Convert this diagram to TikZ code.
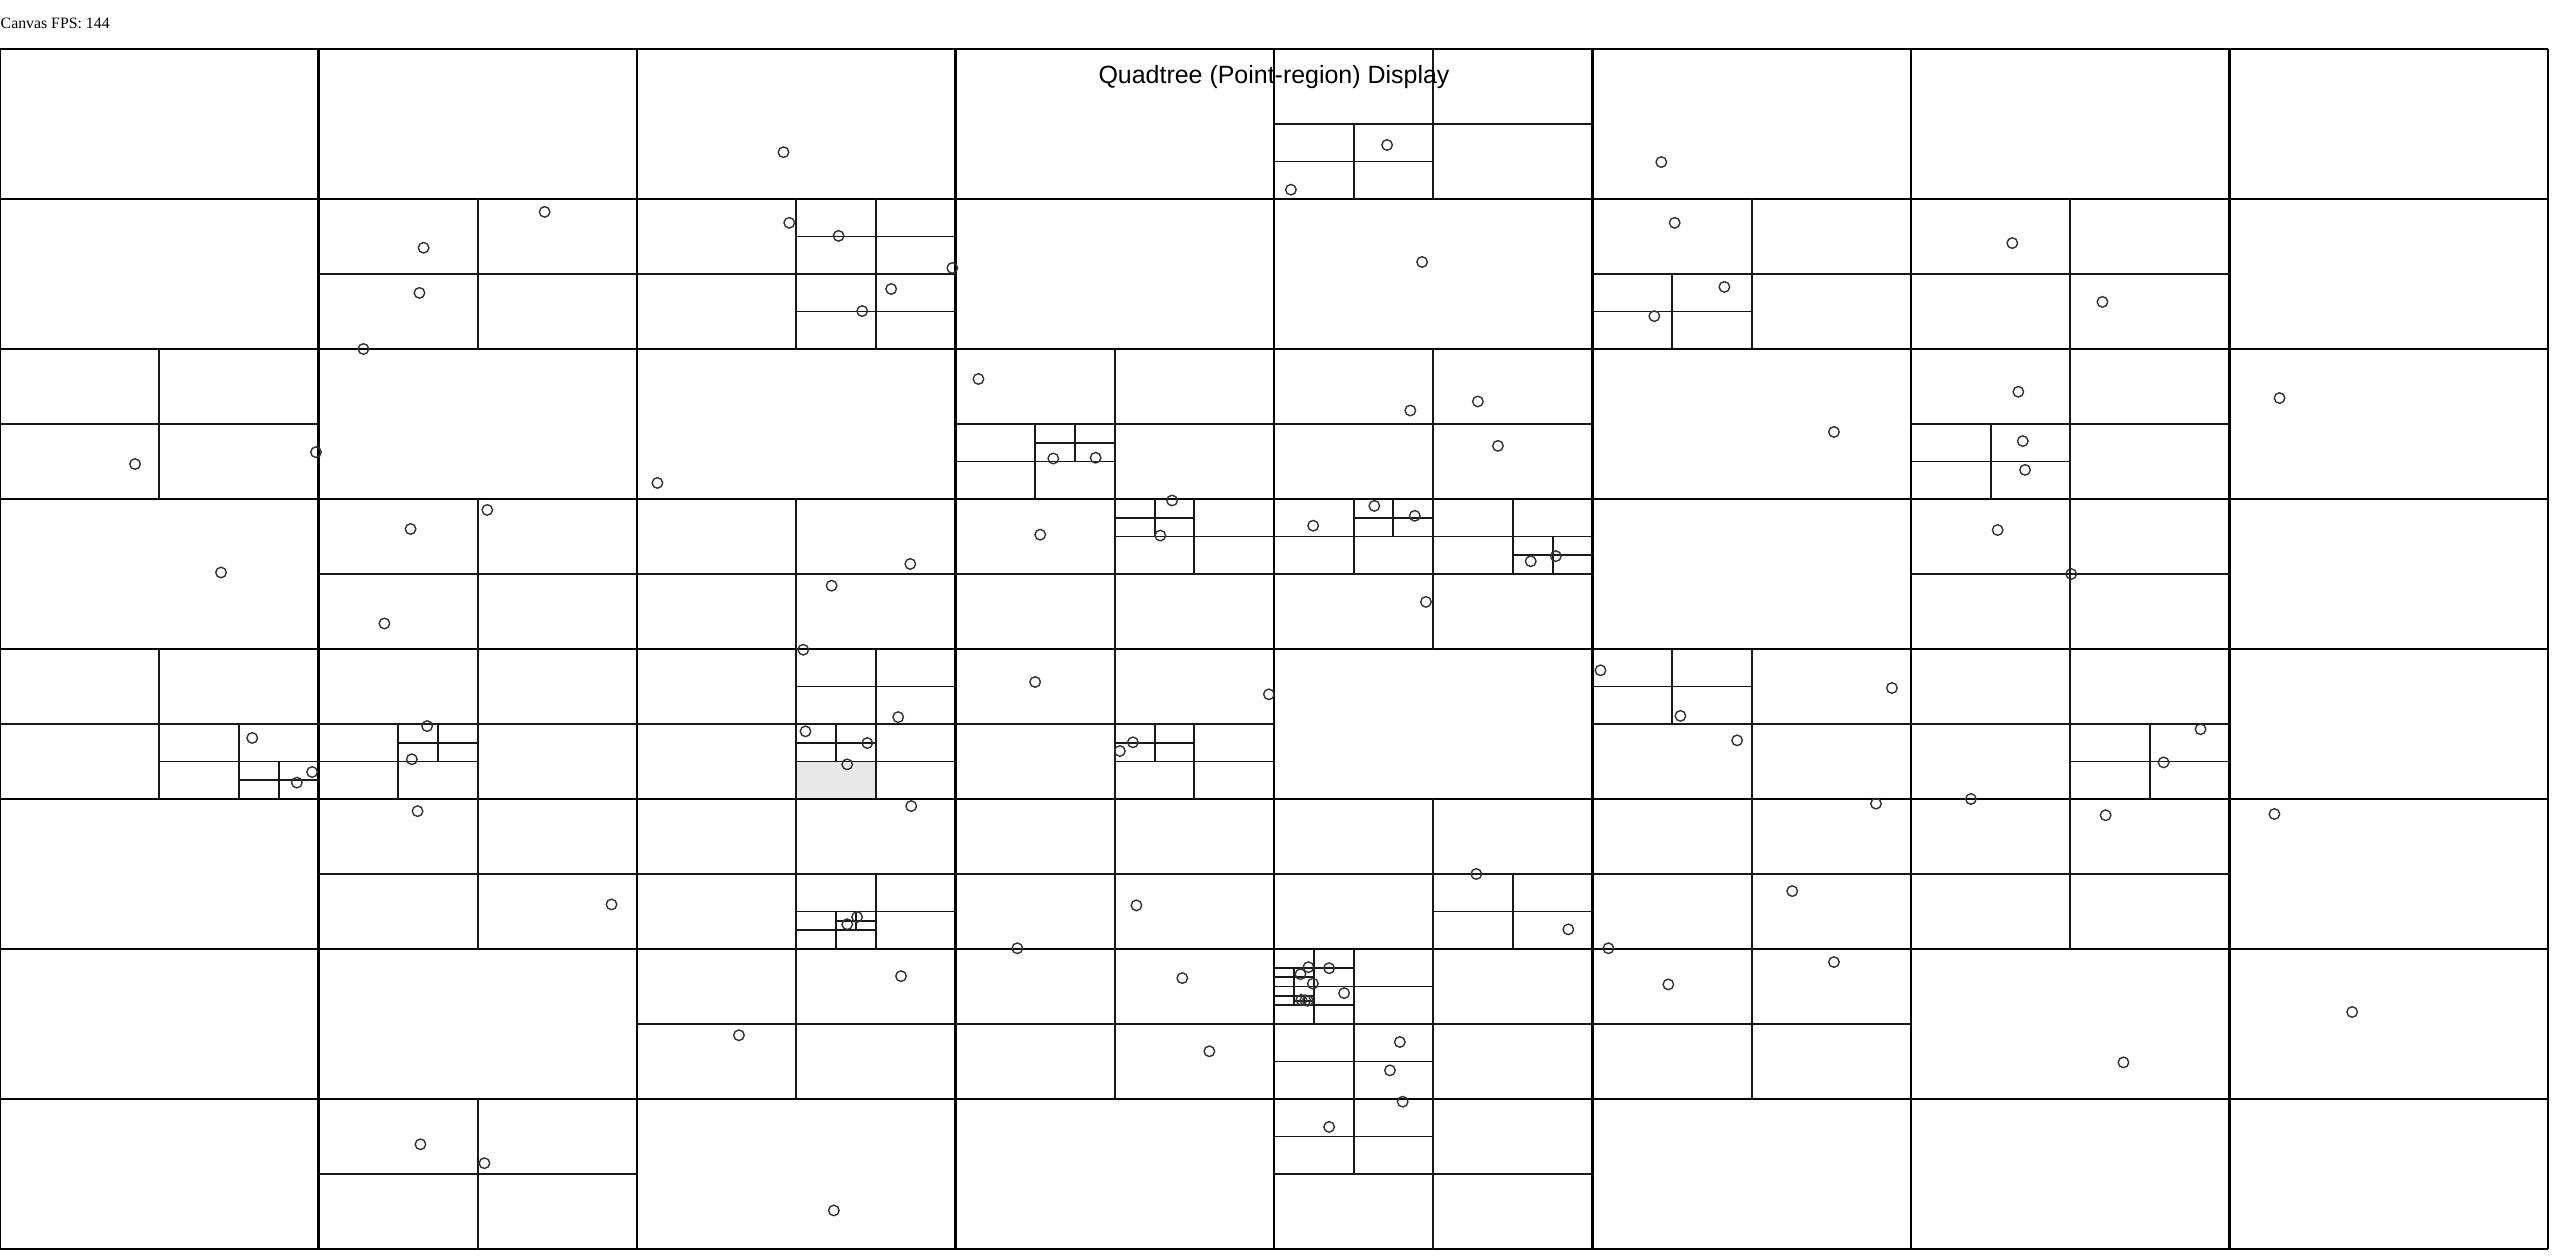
\documentclass[tikz,border=0pt]{standalone}
\usepackage{fontspec}
\newfontfamily\titlefont{Liberation Sans}
\newfontfamily\fpsfont{Liberation Serif}
\usepackage{tikz}
\usetikzlibrary{positioning}

% split one quadtree cell (x, y, size) into its four children
\newcommand{\qsplit}[3]{%
  \draw[ql] ({#1+#3/2},#2) -- ++(0,#3);
  \draw[ql] (#1,{#2+#3/2}) -- ++(#3,0);
}

\begin{document}
\begin{tikzpicture}[
  x=3.185cm, y=-1.5cm,
  gl/.style={line width=0.65pt, black},
  ql/.style={line width=0.55pt, black!90},
  pt/.style={line width=0.4pt, black!80},
  sel/.style={fill=black!9}
]
\useasboundingbox (0,-0.32667) rectangle (8.0251,8.0533);
\fill[sel] (2.5,4.75) rectangle (2.75,5);
% level-3 grid
\foreach \i in {0,...,8} {
  \draw[gl] (\i,0) -- (\i,8);
  \draw[gl] (0,\i) -- (8,\i);
}
% deeper splits, row by row
\qsplit{4}{0}{1} \qsplit{4}{0.5}{0.5}
\qsplit{1}{1}{1}
\qsplit{2}{1}{1} \qsplit{2.5}{1}{0.5} \qsplit{2.5}{1.5}{0.5}
\qsplit{5}{1}{1} \qsplit{5}{1.5}{0.5}
\qsplit{6}{1}{1}
\qsplit{0}{2}{1}
\qsplit{3}{2}{1} \qsplit{3}{2.5}{0.5} \qsplit{3.25}{2.5}{0.25}
\qsplit{4}{2}{1}
\qsplit{6}{2}{1} \qsplit{6}{2.5}{0.5}
\qsplit{1}{3}{1}
\qsplit{2}{3}{1}
\qsplit{3}{3}{1} \qsplit{3.5}{3}{0.5} \qsplit{3.5}{3}{0.25}
\qsplit{4}{3}{1} \qsplit{4}{3}{0.5} \qsplit{4.25}{3}{0.25}
\qsplit{4.5}{3}{0.5} \qsplit{4.75}{3.25}{0.25}
\qsplit{6}{3}{1}
\qsplit{0}{4}{1} \qsplit{0.5}{4.5}{0.5} \qsplit{0.75}{4.75}{0.25}
\qsplit{1}{4}{1} \qsplit{1}{4.5}{0.5} \qsplit{1.25}{4.5}{0.25}
\qsplit{2}{4}{1} \qsplit{2.5}{4}{0.5} \qsplit{2.5}{4.5}{0.5} \qsplit{2.5}{4.5}{0.25}
\qsplit{3}{4}{1} \qsplit{3.5}{4.5}{0.5} \qsplit{3.5}{4.5}{0.25}
\qsplit{5}{4}{1} \qsplit{5}{4}{0.5}
\qsplit{6}{4}{1} \qsplit{6.5}{4.5}{0.5}
\qsplit{1}{5}{1}
\qsplit{2}{5}{1} \qsplit{2.5}{5.5}{0.5} \qsplit{2.5}{5.75}{0.25} \qsplit{2.625}{5.75}{0.125}
\qsplit{3}{5}{1}
\qsplit{4}{5}{1} \qsplit{4.5}{5.5}{0.5}
\qsplit{5}{5}{1}
\qsplit{6}{5}{1}
\qsplit{2}{6}{1}
\qsplit{3}{6}{1}
\qsplit{4}{6}{1} \qsplit{4}{6}{0.5} \qsplit{4}{6}{0.25} \qsplit{4}{6.125}{0.125}
\qsplit{4}{6.25}{0.25} \qsplit{4}{6.25}{0.125} \qsplit{4.0625}{6.3125}{0.0625}
\qsplit{4}{6.5}{0.5}
\qsplit{5}{6}{1}
\qsplit{1}{7}{1}
\qsplit{4}{7}{1} \qsplit{4}{7}{0.5}
% points
\foreach \px/\py in {
  2.46/0.688, 4.355/0.64, 4.053/0.938, 5.216/0.754,
  1.71/1.086, 1.33/1.325, 1.317/1.626, 1.141/2.0,
  2.478/1.159, 2.633/1.246, 2.99/1.46, 2.798/1.6, 2.707/1.747,
  4.465/1.42, 5.258/1.159, 5.414/1.586, 5.194/1.781, 6.318/1.294, 6.601/1.686,
  0.424/2.767, 0.992/2.688, 2.064/2.893, 3.072/2.2, 3.307/2.73, 3.44/2.725,
  4.428/2.41, 4.64/2.35, 4.703/2.646, 5.758/2.553,
  6.337/2.285, 6.351/2.614, 6.358/2.806, 7.157/2.327,
  0.694/3.49, 1.53/3.073, 1.289/3.2, 1.207/3.83,
  2.858/3.433, 2.611/3.578, 2.522/4.005,
  3.266/3.238, 3.68/3.01, 3.643/3.244,
  4.123/3.178, 4.315/3.046, 4.442/3.112, 4.806/3.415, 4.885/3.381, 4.477/3.686,
  6.272/3.207, 6.503/3.5,
  0.792/4.593, 0.98/4.82, 0.932/4.891, 1.341/4.514, 1.293/4.735,
  2.82/4.454, 2.529/4.549, 2.723/4.627, 2.66/4.769,
  3.25/4.22, 3.984/4.302, 3.557/4.622, 3.516/4.68,
  5.025/4.142, 5.276/4.446, 5.94/4.26, 5.454/4.609,
  6.909/4.535, 6.793/4.756, 6.188/5.0,
  1.311/5.081, 1.92/5.703, 2.861/5.047, 2.691/5.787, 2.66/5.835,
  3.568/5.709, 3.194/5.995, 4.635/5.5, 4.924/5.869,
  5.89/5.031, 5.627/5.614, 5.05/5.995, 6.611/5.108, 7.141/5.1,
  2.829/6.181, 2.32/6.575, 3.712/6.194, 3.797/6.682,
  5.238/6.236, 5.758/6.087,
  4.108/6.121, 4.083/6.168, 4.173/6.128, 4.122/6.231, 4.22/6.294,
  4.086/6.339, 4.098/6.342, 4.106/6.345,
  4.395/6.62, 4.364/6.809, 6.667/6.756, 7.385/6.42,
  1.32/7.302, 1.521/7.428, 2.618/7.743, 4.173/7.186, 4.404/7.018}
  \draw[pt] (\px,\py) circle[radius=1.5pt];
% texts
\node[anchor=base, inner sep=0pt, font=\titlefont\fontsize{7.1}{8}\selectfont] (title) at (4,0.23) {Quadtree (Point-region) Display};
\node[anchor=base west, inner sep=0pt, font=\fpsfont\fontsize{4.5}{5}\selectfont] (fps) at (0,-0.138) {Canvas FPS: 144};
\end{tikzpicture}
\end{document}
